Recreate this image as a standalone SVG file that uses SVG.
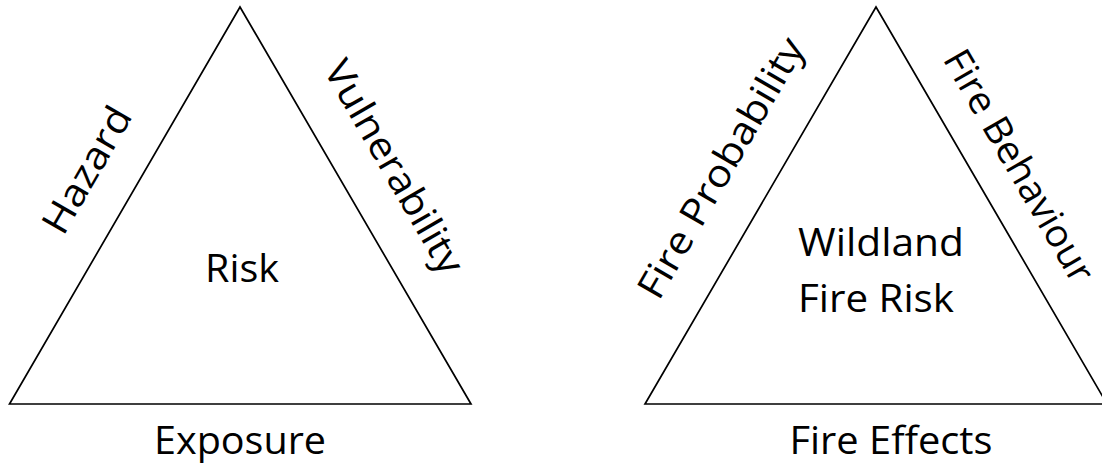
<svg xmlns="http://www.w3.org/2000/svg" width="1102" height="465" viewBox="0 0 1102 465">
<style>
.tri{fill:none;stroke:#000;stroke-width:1.7;stroke-linejoin:miter}
.t{font-family:"Open Sans","Liberation Sans",sans-serif;font-size:38px;fill:#000;text-anchor:middle}
</style>
<rect width="1102" height="465" fill="#fff"/>
<g id="risk-triangle">
<polygon class="tri" points="9.5,404 240,7 471,404"/>
<text class="t" x="242" y="282" textLength="74" lengthAdjust="spacingAndGlyphs">Risk</text>
</g>
<g id="hazard"><text class="t" transform="translate(87,170) rotate(-60)" y="13" textLength="140" lengthAdjust="spacingAndGlyphs">Hazard</text></g>
<g id="vulnerability"><text class="t" transform="translate(394,167) rotate(60)" y="13" textLength="240" lengthAdjust="spacingAndGlyphs">Vulnerability</text></g>
<g id="exposure"><text class="t" x="240" y="454" textLength="172" lengthAdjust="spacingAndGlyphs">Exposure</text></g>
<g id="wildland-triangle">
<polygon class="tri" points="645,404 876,7 1107,404"/>
<text class="t" x="881" y="256" textLength="166" lengthAdjust="spacingAndGlyphs">Wildland</text>
<text class="t" x="876" y="312" textLength="156" lengthAdjust="spacingAndGlyphs">Fire Risk</text>
</g>
<g id="fire-probability"><text class="t" transform="translate(721,168) rotate(-60)" y="13" textLength="294" lengthAdjust="spacingAndGlyphs">Fire Probability</text></g>
<g id="fire-behaviour"><text class="t" transform="translate(1019,166) rotate(60)" y="13" textLength="262" lengthAdjust="spacingAndGlyphs">Fire Behaviour</text></g>
<g id="fire-effects"><text class="t" x="891" y="454" textLength="203" lengthAdjust="spacingAndGlyphs">Fire Effects</text></g>
<g id="connectors"></g>
</svg>
